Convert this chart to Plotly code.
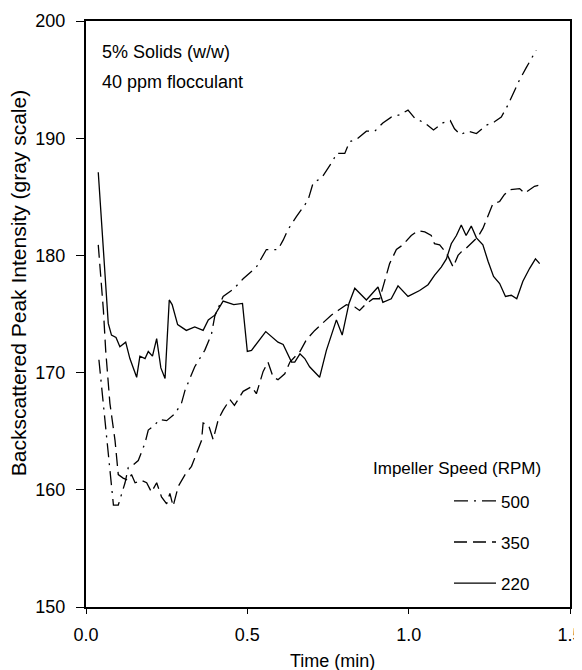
import plotly.graph_objects as go

# ---- data ----
time_500 = [0.040, 0.061, 0.074, 0.085, 0.100, 0.121, 0.131, 0.141, 0.162, 0.183, 0.193, 0.208,
            0.229, 0.250, 0.276, 0.296, 0.307, 0.337, 0.368, 0.389, 0.399, 0.425, 0.456, 0.487,
            0.528, 0.559, 0.595, 0.611, 0.626, 0.652, 0.688, 0.704, 0.730, 0.766, 0.776, 0.802,
            0.817, 0.838, 0.869, 0.895, 0.920, 0.946, 0.972, 0.998, 1.019, 1.050, 1.077, 1.106,
            1.129, 1.142, 1.160, 1.184, 1.210, 1.240, 1.266, 1.287, 1.307, 1.323, 1.344, 1.364,
            1.395]
intensity_500 = [171.1, 165.4, 161.7, 158.7, 158.7, 160.6, 161.9, 162.0, 162.5, 164.0, 165.1, 165.4,
                 166.0, 165.9, 166.5, 167.4, 168.5, 170.5, 171.9, 173.3, 174.8, 176.5, 177.1, 178.0,
                 179.0, 180.5, 180.5, 181.3, 182.2, 183.3, 184.7, 186.2, 186.6, 188.1, 188.7, 188.7,
                 189.7, 189.9, 190.6, 190.6, 191.3, 191.8, 192.0, 192.4, 191.7, 191.3, 190.7, 191.3,
                 191.5, 190.8, 190.3, 190.6, 190.4, 191.1, 191.4, 191.8, 192.8, 193.8, 195.0, 196.0,
                 197.5]

time_350 = [0.038, 0.054, 0.061, 0.074, 0.090, 0.100, 0.115, 0.131, 0.141, 0.152, 0.172, 0.188,
            0.203, 0.219, 0.234, 0.250, 0.260, 0.270, 0.286, 0.307, 0.327, 0.343, 0.358, 0.363,
            0.380, 0.394, 0.410, 0.425, 0.446, 0.460, 0.487, 0.513, 0.528, 0.549, 0.564, 0.580,
            0.595, 0.616, 0.632, 0.663, 0.683, 0.709, 0.735, 0.760, 0.781, 0.807, 0.833, 0.848,
            0.869, 0.890, 0.910, 0.926, 0.941, 0.962, 0.982, 1.008, 1.029, 1.050, 1.070, 1.080,
            1.096, 1.117, 1.138, 1.153, 1.163, 1.178, 1.194, 1.215, 1.230, 1.246, 1.261, 1.282,
            1.297, 1.313, 1.344, 1.359, 1.390, 1.406]
intensity_350 = [180.9, 175.3, 171.9, 167.4, 164.2, 161.3, 161.0, 160.8, 161.3, 160.6, 160.8, 160.6,
                 159.8, 160.6, 159.4, 158.8, 159.7, 158.6, 160.3, 161.3, 162.0, 163.1, 164.2, 165.7,
                 165.5, 164.3, 166.0, 166.8, 167.7, 167.2, 168.4, 168.8, 168.2, 170.1, 170.9, 169.6,
                 169.4, 169.9, 170.9, 171.8, 172.8, 173.6, 174.3, 174.9, 175.3, 175.8, 175.6, 175.3,
                 175.9, 176.3, 176.3, 177.9, 179.3, 180.5, 180.9, 181.7, 182.1, 182.0, 181.7, 181.0,
                 180.9, 180.2, 179.0, 180.0, 180.3, 180.6, 181.0, 181.6, 182.3, 183.4, 184.4, 184.6,
                 185.2, 185.6, 185.7, 185.3, 185.9, 186.0]

time_220 = [0.038, 0.069, 0.079, 0.093, 0.105, 0.123, 0.136, 0.146, 0.157, 0.167, 0.183, 0.193,
            0.206, 0.219, 0.232, 0.245, 0.258, 0.267, 0.284, 0.311, 0.337, 0.363, 0.379, 0.399,
            0.425, 0.458, 0.485, 0.500, 0.513, 0.557, 0.595, 0.611, 0.637, 0.647, 0.663, 0.678,
            0.693, 0.724, 0.745, 0.776, 0.794, 0.815, 0.833, 0.869, 0.905, 0.920, 0.946, 0.967,
            0.998, 1.034, 1.060, 1.080, 1.101, 1.117, 1.132, 1.148, 1.163, 1.178, 1.194, 1.210,
            1.230, 1.246, 1.263, 1.282, 1.300, 1.318, 1.335, 1.354, 1.375, 1.393, 1.406]
intensity_220 = [187.1, 174.2, 173.2, 173.0, 172.2, 172.6, 171.2, 170.5, 169.6, 171.4, 171.2, 171.8,
                 171.4, 172.9, 170.4, 169.5, 176.2, 175.8, 174.1, 173.6, 173.9, 173.6, 174.5, 174.9,
                 176.1, 175.8, 175.9, 171.8, 171.9, 173.5, 172.6, 172.4, 170.9, 170.9, 171.6, 171.2,
                 170.5, 169.6, 171.9, 174.5, 173.2, 175.9, 177.2, 176.2, 177.3, 176.0, 176.3, 177.4,
                 176.5, 177.0, 177.5, 178.3, 179.0, 179.7, 181.0, 181.7, 182.6, 181.7, 182.5, 181.5,
                 180.9, 179.5, 178.2, 177.6, 176.5, 176.6, 176.3, 177.8, 178.9, 179.7, 179.3]

series_names = ["500", "350", "220"]
x_ticks = [0.0, 0.5, 1.0, 1.5]
x_tick_labels = ["0.0", "0.5", "1.0", "1.5"]
y_ticks = [150, 160, 170, 180, 190, 200]

FONT = "Liberation Sans, Arial, sans-serif"

fig = go.Figure()
styles = {
    "500": "14px,6px,2px,6px",
    "350": "13px,6px",
    "220": "solid",
}
data = {
    "500": (time_500, intensity_500),
    "350": (time_350, intensity_350),
    "220": (time_220, intensity_220),
}
for name in series_names:
    xs, ys = data[name]
    fig.add_trace(go.Scatter(
        x=xs, y=ys, mode="lines", name=name, legendgroup=name,
        line=dict(color="black", width=1.3, dash=styles[name]),
    ))

# the page body adds an 8px offset, so the figure is 8px smaller than the window
fig.update_layout(
    width=574, height=662,
    margin=dict(l=78, r=12, t=13, b=63, autoexpand=False),
    paper_bgcolor="white", plot_bgcolor="white",
    font=dict(family=FONT, size=18, color="black"),
    showlegend=True,
    legend=dict(
        x=0.75, y=0.211, xanchor="left", yanchor="top",
        bgcolor="rgba(0,0,0,0)", borderwidth=0, itemwidth=42,
        tracegroupgap=16, font=dict(size=17),
    ),
    xaxis=dict(
        range=[0, 1.5], tickvals=x_ticks, ticktext=x_tick_labels,
        showline=True, linecolor="black", linewidth=2, mirror=True,
        ticks="outside", ticklen=5, tickcolor="black", showgrid=False, zeroline=False,
        tickfont=dict(size=18), ticklabelstandoff=5, automargin=False,
        ticklabeloverflow="allow",
    ),
    yaxis=dict(
        range=[150, 200], tickvals=y_ticks,
        showline=True, linecolor="black", linewidth=2, mirror=True,
        ticks="outside", ticklen=8, tickcolor="black", showgrid=False, zeroline=False,
        tickfont=dict(size=18), ticklabelstandoff=7, automargin=False,
        ticklabeloverflow="allow",
    ),
    annotations=[
        dict(text="Backscattered Peak Intensity (gray scale)", textangle=-90,
             x=-0.138, y=0.553, xref="paper", yref="paper",
             xanchor="center", yanchor="middle", showarrow=False, font=dict(size=21)),
        dict(text="Time (min)", x=0.51, y=-0.093, xref="paper", yref="paper",
             xanchor="center", yanchor="middle", showarrow=False, font=dict(size=18)),
        dict(text="5% Solids (w/w)", x=0.029, y=0.947, xref="paper", yref="paper",
             xanchor="left", yanchor="middle", showarrow=False, font=dict(size=18)),
        dict(text="40 ppm flocculant", x=0.029, y=0.896, xref="paper", yref="paper",
             xanchor="left", yanchor="middle", showarrow=False, font=dict(size=18)),
        dict(text="Impeller Speed (RPM)", x=0.944, y=0.237, xref="paper", yref="paper",
             xanchor="right", yanchor="middle", showarrow=False, font=dict(size=17)),
    ],
)

fig.write_html("out.html")
